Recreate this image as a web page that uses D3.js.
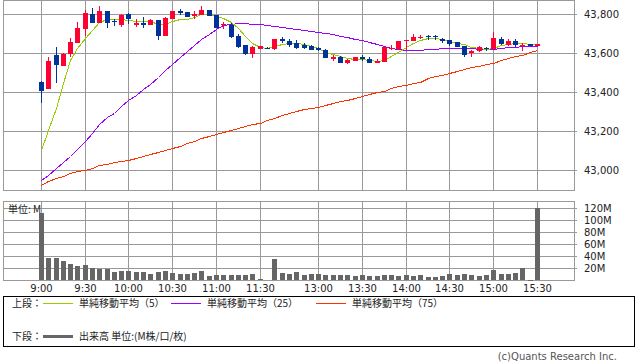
<!DOCTYPE html>
<html>
<head>
<meta charset="utf-8">
<script src="https://cdn.jsdelivr.net/npm/d3@7/dist/d3.min.js"></script>
<style>
  body { margin: 0; background: #fff; }
  svg { display: block; font-family: "DejaVu Sans", sans-serif; }
  .grid line { stroke: #999; shape-rendering: crispEdges; }
  .frame { fill: none; stroke: #999; shape-rendering: crispEdges; }
  .tick-label { font-size: 10px; fill: #222; }
  .jp { font-family: "Noto Sans CJK JP", sans-serif; font-size: 10px; fill: #222; }
</style>
</head>
<body>
<script>
// 5-minute slots, 9:00 .. 15:30 (slot 31 = lunch break)
const times = [
  "9:00","9:05","9:10","9:15","9:20","9:25","9:30","9:35","9:40","9:45",
  "9:50","9:55","10:00","10:05","10:10","10:15","10:20","10:25","10:30","10:35",
  "10:40","10:45","10:50","10:55","11:00","11:05","11:10","11:15","11:20","11:25",
  "11:30","","12:30","12:35","12:40","12:45","12:50","12:55","13:00","13:05",
  "13:10","13:15","13:20","13:25","13:30","13:35","13:40","13:45","13:50","13:55",
  "14:00","14:05","14:10","14:15","14:20","14:25","14:30","14:35","14:40","14:45",
  "14:50","14:55","15:00","15:05","15:10","15:15","15:20","15:25","15:30"
];

const opens = [
  43454,43417,43591,43536,43595,43654,43725,43801,43757,43817,
  43764,43747,43800,43747,43757,43747,43771,43690,43776,43815,
  43812,43793,43798,43822,43796,43745,43747,43690,43641,43595,
  43624,43629,43621,43672,43662,43654,43641,43637,43626,43617,
  43571,43583,43552,43562,43579,43569,43552,43555,43621,43621,
  43662,43665,43682,43689,43689,43675,43668,43658,43637,43600,
  43610,43627,43624,43675,43641,43665,43641,43648,43637
];
const closes = [
  43408,43560,43540,43596,43656,43730,43805,43757,43817,43754,
  43758,43798,43776,43757,43747,43771,43690,43781,43817,43805,
  43788,43802,43822,43793,43731,43750,43685,43634,43596,43631,
  43636,43624,43672,43662,43641,43627,43627,43617,43617,43577,
  43583,43552,43564,43579,43569,43552,43562,43631,43627,43662,
  43668,43685,43685,43682,43682,43662,43647,43634,43593,43613,
  43631,43621,43678,43648,43665,43641,43644,43637,43648
];
const highs = [
  43456,43581,43632,43600,43677,43760,43820,43832,43841,43817,
  43777,43800,43805,43777,43788,43777,43771,43788,43819,43826,
  43812,43817,43843,43822,43798,43760,43757,43700,43643,43636,
  43638,43631,43674,43682,43675,43668,43651,43644,43631,43620,
  43593,43585,43569,43580,43593,43579,43572,43633,43644,43664,
  43670,43699,43695,43692,43692,43677,43670,43660,43639,43615,
  43638,43634,43709,43685,43672,43672,43654,43650,43650
];
const lows = [
  43345,43415,43449,43534,43580,43652,43690,43755,43755,43731,
  43738,43736,43750,43736,43731,43745,43670,43688,43774,43798,
  43785,43774,43796,43790,43729,43723,43680,43626,43590,43578,
  43622,43622,43619,43654,43631,43624,43621,43615,43612,43575,
  43562,43550,43547,43560,43562,43550,43550,43553,43619,43619,
  43617,43663,43672,43668,43668,43654,43637,43632,43583,43579,
  43608,43613,43622,43641,43639,43634,43613,43635,43635
];

// simple moving averages
const ma5 = [
  43104,43206,43320,43445,43563,43625,43676,43720,43759,43777,
  43777,43774,43771,43766,43766,43766,43750,43750,43766,43776,
  43776,43785,43800,43800,43790,43779,43762,43728,43688,43654,
  43634,43629,43637,43648,43651,43651,43648,43637,43627,43608,
  43596,43586,43576,43573,43569,43564,43559,43566,43586,43608,
  43634,43654,43668,43677,43677,43673,43665,43654,43648,43634,
  43627,43624,43627,43641,43648,43654,43654,43648,43648
];
const ma25 = [
  42950,42976,43010,43041,43073,43109,43149,43193,43236,43275,
  43295,43330,43361,43386,43415,43441,43477,43514,43545,43580,
  43613,43643,43672,43699,43723,43745,43750,43754,43754,43752,
  43750,43744,43738,43733,43728,43724,43719,43715,43710,43705,
  43699,43690,43682,43675,43666,43656,43646,43636,43627,43621,
  43618,43617,43619,43622,43624,43626,43626,43626,43626,43626,
  43624,43622,43624,43629,43632,43634,43636,43637,43639
];
const ma75 = [
  42925,42945,42958,42971,42986,42996,43004,43012,43026,43032,
  43040,43046,43053,43061,43072,43084,43094,43104,43114,43125,
  43140,43150,43166,43176,43186,43196,43207,43215,43225,43235,
  43245,43258,43268,43281,43294,43304,43312,43320,43325,43335,
  43344,43353,43361,43369,43380,43390,43400,43409,43420,43431,
  43439,43446,43455,43472,43481,43491,43501,43508,43517,43527,
  43535,43543,43552,43566,43576,43584,43593,43604,43617
];

// volume, millions
const volumes = [
  111,37,37,32,27,24,25,20,19,19,
  14,15,15,14,14,10.5,13,15,12,10.5,
  10.5,12,15,7,8.3,8.3,8.3,8.3,8.3,10,
  2,0,35,11.5,10,13,8.3,10,10,8.3,
  8.3,8.3,8.3,7.2,8.3,7.2,7.2,8.3,8.3,7.2,
  8.3,7.2,8.3,5,5,6.6,10,8.3,10,8.3,
  7.2,8.3,16,10,10,11.5,20,0.5,120
];

const timeTicks = ["9:00","9:30","10:00","10:30","11:00","11:30","13:00","13:30","14:00","14:30","15:00","15:30"];
const priceTicks = [43000, 43200, 43400, 43600, 43800];
const volumeTicks = [20, 40, 60, 80, 100, 120];

const legendTop = [
  { label: "単純移動平均（5）", color: "#99cc00" },
  { label: "単純移動平均（25）", color: "#9900ff" },
  { label: "単純移動平均（75）", color: "#ff3300" }
];

const UP = "#ff0033", DOWN = "#003399";
const WIDTH = 638, HEIGHT = 362;

const svg = d3.select('body').append('svg')
  .attr('width', WIDTH)
  .attr('height', HEIGHT);

const panel = { left: 3, right: 574 };
const pricePanel = { top: 0, bottom: 190 };
const volPanel = { top: 201, bottom: 280 };

const x = d3.scaleLinear()
  .domain([-5.2, 73.07])
  .range([panel.left, panel.right]);

const y = d3.scaleLinear()
  .domain([42899, 43873])
  .range([pricePanel.bottom, pricePanel.top]);

const yv = d3.scaleLinear()
  .domain([0, 131])
  .range([volPanel.bottom, volPanel.top]);

const cx = i => Math.round(x(i));
const tickIdx = timeTicks.map(t => times.indexOf(t));

// Grid + frame for one panel.
function drawGrid(g, top, bottom, hValues, yScale) {
  const grid = g.append('g').attr('class', 'grid');
  grid.selectAll('line.v').data(tickIdx).enter().append('line')
    .attr('x1', d => cx(d) + 0.5).attr('x2', d => cx(d) + 0.5)
    .attr('y1', top).attr('y2', bottom);
  grid.selectAll('line.h').data(hValues).enter().append('line')
    .attr('x1', panel.left).attr('x2', panel.right + 3)
    .attr('y1', d => Math.round(yScale(d)) + 0.5)
    .attr('y2', d => Math.round(yScale(d)) + 0.5);
  g.append('rect').attr('class', 'frame')
    .attr('x', panel.left + 0.5).attr('y', top + 0.5)
    .attr('width', panel.right - panel.left).attr('height', bottom - top);
}

drawGrid(svg, pricePanel.top, pricePanel.bottom, priceTicks, y);
drawGrid(svg, volPanel.top, volPanel.bottom, volumeTicks, yv);

// Price axis labels
svg.append('g').selectAll('text').data(priceTicks).enter().append('text')
  .attr('class', 'tick-label')
  .attr('x', 584)
  .attr('y', d => Math.round(y(d)) + 4)
  .text(d3.format(','));

// Volume axis labels
svg.append('g').selectAll('text').data(volumeTicks).enter().append('text')
  .attr('class', 'tick-label')
  .attr('x', 584)
  .attr('y', d => Math.round(yv(d)) + 4)
  .text(d => d + 'M');

// Time labels
svg.append('g').selectAll('text').data(timeTicks).enter().append('text')
  .attr('class', 'tick-label')
  .attr('text-anchor', 'middle')
  .attr('x', (d, k) => cx(tickIdx[k]) + 0.5)
  .attr('y', 292)
  .text(d => d);

// Moving averages
const maLine = d3.line().x((d, i) => cx(i) + 0.5).y(d => Math.round(y(d)) + 0.5);
[[ma75, "#ff3300"], [ma25, "#9900ff"], [ma5, "#99cc00"]].forEach(([series, color]) => {
  svg.append('path')
    .datum(series)
    .attr('d', maLine)
    .attr('fill', 'none')
    .attr('stroke', color)
    .attr('stroke-width', 1)
    .attr('shape-rendering', 'crispEdges');
});

// Candles
const candles = svg.append('g').attr('shape-rendering', 'crispEdges');
opens.forEach((o, i) => {
  const c = closes[i];
  const color = c >= o ? UP : DOWN;
  const xc = cx(i);
  const yHi = Math.round(y(highs[i]));
  const yLo = Math.round(y(lows[i]));
  candles.append('rect')
    .attr('x', xc).attr('y', yHi)
    .attr('width', 1).attr('height', Math.max(1, yLo - yHi))
    .attr('fill', color);
  const yTop = Math.round(y(Math.max(o, c)));
  const yBot = Math.round(y(Math.min(o, c)));
  candles.append('rect')
    .attr('x', xc - 2).attr('y', yTop)
    .attr('width', 5).attr('height', Math.max(1, yBot - yTop))
    .attr('fill', color);
});

// Volume bars
const volG = svg.append('g').attr('shape-rendering', 'crispEdges');
volumes.forEach((v, i) => {
  if (v <= 0) return;
  const top = Math.round(yv(v));
  volG.append('rect')
    .attr('x', cx(i) - 2).attr('y', top)
    .attr('width', 5).attr('height', Math.max(1, volPanel.bottom - top))
    .attr('fill', '#666');
});

svg.append('text').attr('class', 'jp')
  .attr('x', 8).attr('y', 213)
  .text('単位: M');

// Legend
const legend = svg.append('g');
legend.append('rect')
  .attr('x', 3.5).attr('y', 296.5)
  .attr('width', 631).attr('height', 50)
  .attr('fill', 'none').attr('stroke', '#000')
  .attr('shape-rendering', 'crispEdges');

legend.append('text').attr('class', 'jp').attr('x', 12).attr('y', 307).text('上段：');
const swatchX = [43, 171, 316];
legendTop.forEach((d, k) => {
  legend.append('line')
    .attr('x1', swatchX[k]).attr('x2', swatchX[k] + 30)
    .attr('y1', 303.5).attr('y2', 303.5)
    .attr('stroke', d.color)
    .attr('shape-rendering', 'crispEdges');
  legend.append('text').attr('class', 'jp')
    .attr('x', swatchX[k] + 36).attr('y', 307)
    .text(d.label);
});

legend.append('text').attr('class', 'jp').attr('x', 12).attr('y', 340).text('下段：');
legend.append('rect')
  .attr('x', 43).attr('y', 335).attr('width', 30).attr('height', 3)
  .attr('fill', '#666');
legend.append('text').attr('class', 'jp')
  .attr('x', 79).attr('y', 340)
  .text('出来高 単位:(M株/口/枚)');

svg.append('text')
  .attr('x', 617).attr('y', 360)
  .attr('text-anchor', 'end')
  .attr('font-size', 10)
  .attr('fill', '#555')
  .text('(c)Quants Research Inc.');
</script>
</body>
</html>
